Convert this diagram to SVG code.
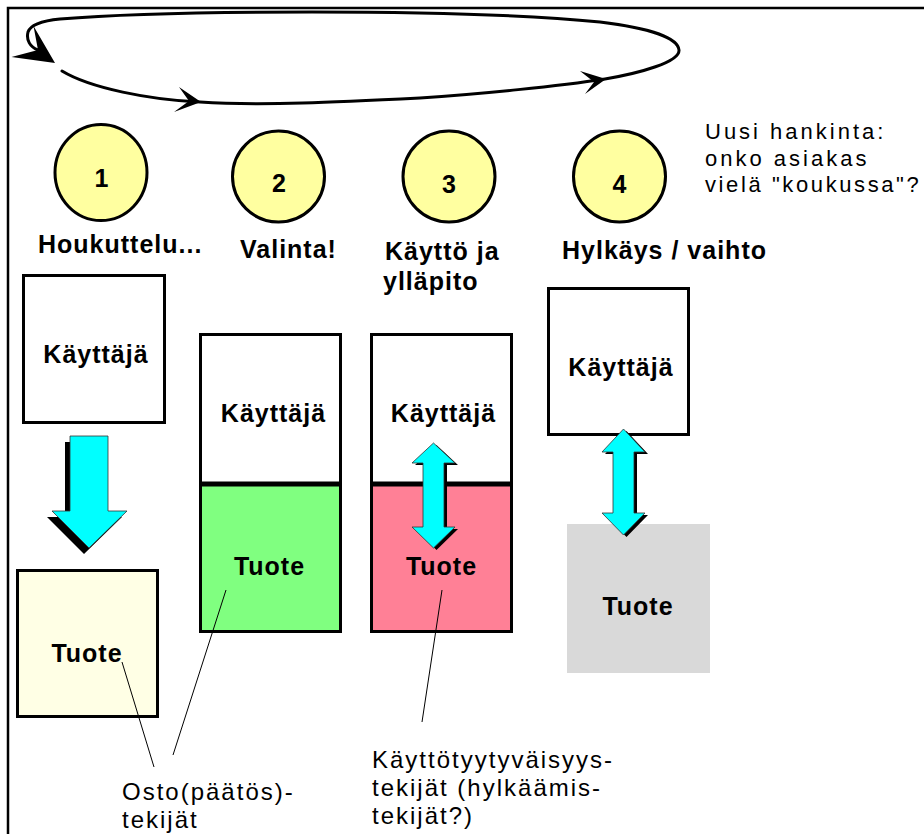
<svg xmlns="http://www.w3.org/2000/svg" width="924" height="834" viewBox="0 0 924 834">
<style>
.b{font-family:"Liberation Sans",Arial,sans-serif;font-weight:bold;font-size:25px;letter-spacing:1px;fill:#000}
.bm{font-family:"Liberation Sans",Arial,sans-serif;font-weight:bold;font-size:25px;letter-spacing:1px;fill:#000;text-anchor:middle}
.r{font-family:"Liberation Sans",Arial,sans-serif;font-size:24px;letter-spacing:2px;fill:#000}
.rt{font-family:"Liberation Sans",Arial,sans-serif;font-size:22px;letter-spacing:3px;fill:#000}
.circ{fill:#ffffa0;stroke:#000;stroke-width:3}
.box{stroke:#000;stroke-width:3}
.cy{fill:#00ffff;stroke:#333;stroke-width:0.8}
.sh{fill:#000}
.call{stroke:#000;stroke-width:1;fill:none}
.loop{stroke:#000;stroke-width:3;fill:none;stroke-linecap:round}
</style>
<rect width="924" height="834" fill="#fff"/>
<path d="M8,834 V8 H924" fill="none" stroke="#000" stroke-width="2.5"/>

<g id="cycle">
<path class="loop" d="M62,71 C90,88 150,100 200,102 C260,106 340,102 420,98 C480,94 560,86 605,79 C640,73 680,62 679,50 C678,38 650,28 600,22 C520,14 420,12 312,12 C220,12 120,14 60,19 C40,21 30,26 28,32 C26,40 30,47 38,50"/>
<polygon points="55,63 33.5,26 38,50 11.5,57" fill="#000"/>
<polygon points="201,102 179,87 189,101 174,112" fill="#000"/>
<polygon points="606,79 580,71 594,82 585,94" fill="#000"/>
</g>

<g id="step1">
<ellipse class="circ" cx="101" cy="172.5" rx="46" ry="48"/>
<text class="bm" x="102" y="187">1</text>
<text class="b" x="38" y="253">Houkuttelu...</text>
</g>
<g id="step2">
<ellipse class="circ" cx="278.5" cy="176.5" rx="46" ry="45.5"/>
<text class="bm" x="279.5" y="192">2</text>
<text class="b" x="240" y="258">Valinta!</text>
</g>
<g id="step3">
<ellipse class="circ" cx="449" cy="176.5" rx="46" ry="45.5"/>
<text class="bm" x="449.5" y="193">3</text>
<text class="b" x="385" y="260">Käyttö ja</text>
<text class="b" x="383" y="290">ylläpito</text>
</g>
<g id="step4">
<ellipse class="circ" cx="619.5" cy="176.5" rx="46" ry="45.5"/>
<text class="bm" x="620" y="193">4</text>
<text class="b" x="562" y="259">Hylkäys / vaihto</text>
</g>

<g id="note">
<text class="rt" x="705" y="139">Uusi hankinta:</text>
<text class="rt" x="705" y="165.5">onko asiakas</text>
<text class="rt" x="705" y="192" style="letter-spacing:2.6px">vielä "koukussa"?</text>
</g>

<g id="kayttaja1">
<rect class="box" x="23.5" y="275.5" width="141" height="147" fill="#fff"/>
<text class="bm" x="96" y="363">Käyttäjä</text>
</g>
<g id="tuote1">
<rect class="box" x="17.5" y="570.5" width="140" height="146" fill="#ffffe5"/>
<text class="bm" x="87" y="662">Tuote</text>
</g>

<g id="kayttaja2">
<rect class="box" x="200.5" y="334.5" width="140" height="149" fill="#fff"/>
<text class="bm" x="273.5" y="422">Käyttäjä</text>
</g>
<g id="tuote2">
<rect class="box" x="200.5" y="484.5" width="140" height="147" fill="#80ff80"/>
<line x1="199" y1="484" x2="342" y2="484" stroke="#000" stroke-width="5"/>
<text class="bm" x="269.5" y="575">Tuote</text>
</g>

<g id="kayttaja3">
<rect class="box" x="371.5" y="334.5" width="140" height="149" fill="#fff"/>
<text class="bm" x="443.5" y="422">Käyttäjä</text>
</g>
<g id="tuote3">
<rect class="box" x="371.5" y="484.5" width="140" height="147" fill="#ff8096"/>
<line x1="370" y1="484" x2="513" y2="484" stroke="#000" stroke-width="5"/>
<text class="bm" x="441.5" y="575">Tuote</text>
</g>

<g id="kayttaja4">
<rect class="box" x="548.5" y="288.5" width="140" height="146" fill="#fff"/>
<text class="bm" x="621" y="376">Käyttäjä</text>
</g>
<g id="tuote4">
<rect x="567" y="524" width="143" height="149" fill="#d9d9d9"/>
<text class="bm" x="638" y="615">Tuote</text>
</g>

<g id="connectors">
<g id="arrow1">
<polygon class="sh" transform="translate(-5,6)" points="70,436 108,436 108,511 127,511 89,548 52,511 70,511"/>
<polygon class="cy" points="70,436 108,436 108,511 127,511 89,548 52,511 70,511"/>
</g>
<g id="arrow3">
<polygon class="sh" transform="translate(3,2)" points="433.5,443 455,463 444,463 444,527 455,527 433.5,548 412,527 423,527 423,463 412,463"/>
<polygon class="cy" points="433.5,443 455,463 444,463 444,527 455,527 433.5,548 412,527 423,527 423,463 412,463"/>
</g>
<g id="arrow4">
<polygon class="sh" transform="translate(3,2)" points="623.5,429 645,452 634,452 634,513 645,513 623.5,535 602,513 613,513 613,452 602,452"/>
<polygon class="cy" points="623.5,429 645,452 634,452 634,513 645,513 623.5,535 602,513 613,513 613,452 602,452"/>
</g>
<line class="call" x1="122" y1="662" x2="154" y2="767"/>
<line class="call" x1="226" y1="590" x2="173" y2="755"/>
<line class="call" x1="442" y1="590" x2="422" y2="722"/>
</g>

<g id="callout-osto">
<text class="r" x="122" y="800">Osto(päätös)-</text>
<text class="r" x="122" y="828">tekijät</text>
</g>
<g id="callout-kaytto">
<text class="r" x="372" y="768">Käyttötyytyväisyys-</text>
<text class="r" x="372" y="796">tekijät (hylkäämis-</text>
<text class="r" x="372" y="824">tekijät?)</text>
</g>
</svg>
